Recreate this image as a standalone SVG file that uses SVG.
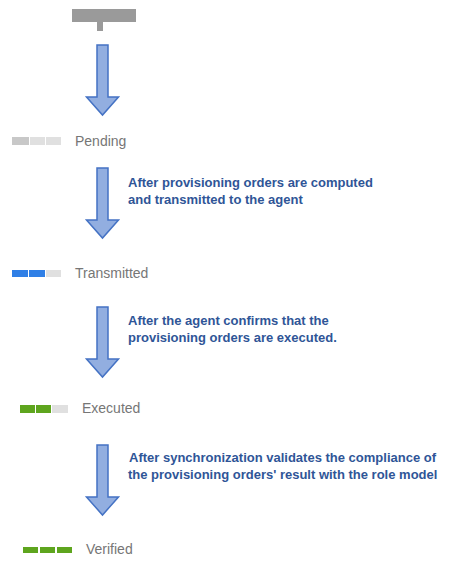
<svg xmlns="http://www.w3.org/2000/svg" width="450" height="565" viewBox="0 0 450 565">
<defs>
<style>
.box{fill:#ffffff}
.lbl{font-family:"Liberation Sans",Arial,sans-serif;font-size:14px;fill:#767676}
.desc{font-family:"Liberation Sans",Arial,sans-serif;font-size:13px;font-weight:bold;fill:#2f5597}
.arrow{fill:#92aee0;stroke:#4472c4;stroke-width:1.5;stroke-linejoin:miter}
.g0{fill:#e0e0e0}
.g1{fill:#c8c8c8}
.bl{fill:#2f7fe6}
.gr{fill:#5ea51e}
.top{fill:#9a9a9a}
</style>
<path id="arr" class="arrow" d="M-5.5,0 H5.5 V52 H16 L0,70 L-16,52 H-5.5 Z"/>
</defs>
<g id="start">
<rect class="top" x="72" y="9" width="64" height="13"/>
<rect class="top" x="97" y="22" width="6" height="9"/>
</g>
<g id="connectors">
<use href="#arr" x="102.5" y="45"/>
<use href="#arr" x="102.5" y="168"/>
<use href="#arr" x="102.5" y="307"/>
<use href="#arr" x="102.5" y="445"/>
</g>
<g id="pending">
<rect class="box" x="0" y="120" width="136" height="40"/>
<rect class="g1" x="12" y="137" width="17" height="8"/>
<rect class="g0" x="30" y="137" width="15" height="8"/>
<rect class="g0" x="46" y="137" width="15" height="8"/>
<text class="lbl" x="75" y="146">Pending</text>
</g>
<g id="desc1">
<text class="desc" x="128" y="187">After provisioning orders are computed</text>
<text class="desc" x="128" y="204">and transmitted to the agent</text>
</g>
<g id="transmitted">
<rect class="box" x="0" y="255" width="160" height="32"/>
<rect class="bl" x="12" y="270" width="16" height="7"/>
<rect class="bl" x="29" y="270" width="16" height="7"/>
<rect class="g0" x="46" y="270" width="15" height="7"/>
<text class="lbl" x="75" y="278">Transmitted</text>
</g>
<g id="desc2">
<text class="desc" x="128" y="325">After the agent confirms that the</text>
<text class="desc" x="128" y="342">provisioning orders are executed.</text>
</g>
<g id="executed">
<rect class="box" x="8" y="392" width="144" height="31"/>
<rect class="gr" x="20" y="405" width="15" height="8"/>
<rect class="gr" x="36" y="405" width="15" height="8"/>
<rect class="g0" x="52" y="405" width="16" height="8"/>
<text class="lbl" x="82" y="413">Executed</text>
</g>
<g id="desc3">
<text class="desc" x="129" y="462">After synchronization validates the compliance of</text>
<text class="desc" x="128" y="479">the provisioning orders' result with the role model</text>
</g>
<g id="verified">
<rect class="box" x="8" y="528" width="135" height="37"/>
<rect class="gr" x="23" y="547" width="15" height="6"/>
<rect class="gr" x="40" y="547" width="15" height="6"/>
<rect class="gr" x="57" y="547" width="15" height="6"/>
<text class="lbl" x="86" y="554">Verified</text>
</g>
</svg>
